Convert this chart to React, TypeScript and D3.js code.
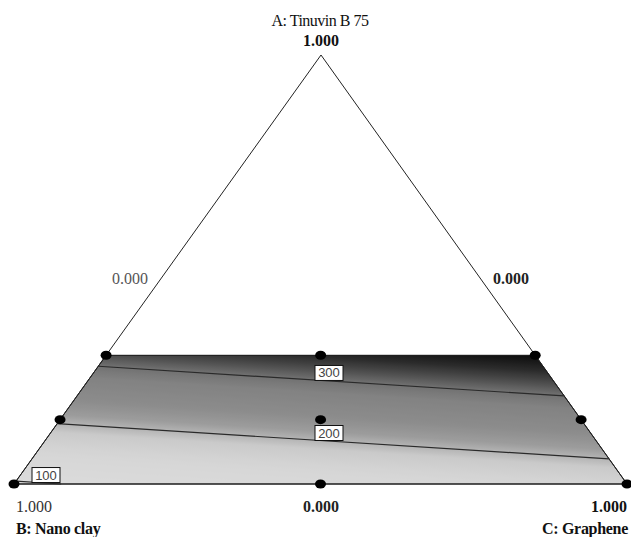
import React from "react";
import * as d3 from "d3";

// ---- Data ----
// Design points (ternary fractions A, B, C)
const ptA = [0.3, 0.3, 0.3, 0.15, 0.15, 0.15, 0, 0, 0];
const ptB = [0.7, 0.35, 0, 0.85, 0.425, 0, 1, 0.5, 0];
const ptC = [0, 0.35, 0.7, 0, 0.425, 0.85, 0, 0.5, 1];
// Linear mixture model coefficients (response = a*A + b*B + c*C)
const coefA = 842;
const coefB = 95;
const coefC = 160;
// Constraint region: A from 0 to 0.3
const aMax = 0.3;
// Contour levels and label texts
const contourLevels = [100, 200, 300];
const contourLabels = ["100", "200", "300"];
// Gray shading stops
const shadeValues = [90, 150, 185, 200, 215, 240, 280, 300, 320, 340, 370];
const shadeGrays = ["#dcdcdc", "#d6d6d6", "#cacaca", "#b4b4b4", "#9c9c9c", "#8c8c8c", "#828282", "#727272", "#4c4c4c", "#2a2a2a", "#050505"];
// Axis texts
const apexTitle = "A: Tinuvin B 75";
const leftTitle = "B: Nano clay";
const rightTitle = "C: Graphene";
const apexTick = "1.000";
const sideTickLeft = "0.000";
const sideTickRight = "0.000";
const bottomTicks = ["1.000", "0.000", "1.000"];

// ---- Layout ----
const W = 631, H = 537;
const apex = { x: 321, y: 55 };
const leftV = { x: 14, y: 484 };
const rightV = { x: 627, y: 484 };
const labelXs = [46, 329, 329];

const yScale = d3.scaleLinear().domain([0, 1]).range([leftV.y, apex.y]);

function tern(A: number, B: number, C: number): [number, number] {
  const s = A + B + C;
  const x = (A * apex.x + B * leftV.x + C * rightV.x) / s;
  return [x, yScale(A / s)];
}
function inv(x: number, y: number): [number, number, number] {
  const A = yScale.invert(y);
  const C = (x - A * apex.x - (1 - A) * leftV.x) / (rightV.x - leftV.x);
  return [A, 1 - A - C, C];
}
function model(A: number, B: number, C: number) {
  return coefA * A + coefB * B + coefC * C;
}
function vAt(x: number, y: number) {
  const [A, B, C] = inv(x, y);
  return model(A, B, C);
}

const region: [number, number, number][] = [
  [0, 1, 0],
  [aMax, 1 - aMax, 0],
  [aMax, 0, 1 - aMax],
  [0, 0, 1],
];

function contourSegment(level: number): [number, number][] {
  const pts: [number, number][] = [];
  for (let i = 0; i < region.length; i++) {
    const p = region[i], q = region[(i + 1) % region.length];
    const v0 = model(p[0], p[1], p[2]);
    const v1 = model(q[0], q[1], q[2]);
    if ((level - v0) * (level - v1) <= 0 && v0 !== v1) {
      const t = (level - v0) / (v1 - v0);
      const xy = tern(p[0] + t * (q[0] - p[0]), p[1] + t * (q[1] - p[1]), p[2] + t * (q[2] - p[2]));
      if (!pts.some((o) => Math.hypot(o[0] - xy[0], o[1] - xy[1]) < 0.5)) pts.push(xy);
    }
  }
  return pts.slice(0, 2).sort((a, b) => a[0] - b[0]);
}

export default function App() {
  const gray = d3.scaleLinear<string>().domain(shadeValues).range(shadeGrays).interpolate(d3.interpolateRgb);
  const regionPts = region.map((r) => tern(r[0], r[1], r[2]));
  const regionPath = d3.line()(regionPts)! + "Z";
  const cx = 321, cy = 420;
  const v0 = vAt(cx, cy);
  const gx = vAt(cx + 1, cy) - v0;
  const gy = vAt(cx, cy + 1) - v0;
  const g2 = gx * gx + gy * gy;
  const vmin = shadeValues[0], vmax = shadeValues[shadeValues.length - 1];
  const p0 = [cx + ((vmin - v0) / g2) * gx, cy + ((vmin - v0) / g2) * gy];
  const p1 = [cx + ((vmax - v0) / g2) * gx, cy + ((vmax - v0) / g2) * gy];
  const stops = d3.range(0, 101).map((i) => {
    const v = vmin + ((vmax - vmin) * i) / 100;
    return { off: i / 100, col: gray(v) };
  });
  const tri = [tern(1, 0, 0), tern(0, 1, 0), tern(0, 0, 1)];
  const triPath = d3.line()(tri)! + "Z";
  const serif = "'Liberation Serif', 'DejaVu Serif', serif";

  return (
    <svg width={W} height={H} style={{ position: "absolute", left: 0, top: 0, background: "#fff" }}>
      <defs>
        <linearGradient id="shade" gradientUnits="userSpaceOnUse" x1={p0[0]} y1={p0[1]} x2={p1[0]} y2={p1[1]}>
          {stops.map((s, i) => (
            <stop key={i} offset={s.off} stopColor={s.col} />
          ))}
        </linearGradient>
      </defs>
      <rect x={0} y={0} width={W} height={H} fill="#fff" />
      <path d={regionPath} fill="url(#shade)" />
      <path d={regionPath} fill="none" stroke="#111" strokeWidth={1} />
      <path d={triPath} fill="none" stroke="#222" strokeWidth={1} />
      {contourLevels.map((lv, i) => {
        const seg = contourSegment(lv);
        if (seg.length < 2) return null;
        const lx = labelXs[i];
        const t = (lx - seg[0][0]) / (seg[1][0] - seg[0][0]);
        const ly = seg[0][1] + t * (seg[1][1] - seg[0][1]);
        return (
          <g key={lv}>
            <line x1={seg[0][0]} y1={seg[0][1]} x2={seg[1][0]} y2={seg[1][1]} stroke="#2a2a2a" strokeWidth={1.2} />
            <rect x={lx - 14} y={ly - 15.5} width={28} height={15} fill="#fff" stroke="#111" strokeWidth={1} />
            <text x={lx} y={ly - 3.5} textAnchor="middle" fontFamily="'Liberation Sans', Arial, sans-serif" fontSize={13} fill="#444">
              {contourLabels[i]}
            </text>
          </g>
        );
      })}
      {ptA.map((a, i) => {
        const [x, y] = tern(a, ptB[i], ptC[i]);
        return <ellipse key={i} cx={x} cy={y} rx={5.5} ry={4.5} fill="#000" />;
      })}
      <text x={apex.x - 1} y={26} textAnchor="middle" fontFamily={serif} fontSize={16} letterSpacing={-0.5} fill="#111">
        {apexTitle}
      </text>
      <text x={apex.x} y={46} textAnchor="middle" fontFamily={serif} fontSize={16} fontWeight="bold" fill="#111">
        {apexTick}
      </text>
      <text x={112} y={284} fontFamily={serif} fontSize={16} fill="#555">
        {sideTickLeft}
      </text>
      <text x={493} y={284} fontFamily={serif} fontSize={16} fontWeight="bold" fill="#222">
        {sideTickRight}
      </text>
      <text x={16} y={512} fontFamily={serif} fontSize={16} fill="#333">
        {bottomTicks[0]}
      </text>
      <text x={apex.x} y={512} textAnchor="middle" fontFamily={serif} fontSize={16} fontWeight="bold" fill="#222">
        {bottomTicks[1]}
      </text>
      <text x={627} y={512} textAnchor="end" fontFamily={serif} fontSize={16} fontWeight="bold" fill="#111">
        {bottomTicks[2]}
      </text>
      <text x={16} y={534} fontFamily={serif} fontSize={16} fontWeight="bold" letterSpacing={-0.3} fill="#111">
        {leftTitle}
      </text>
      <text x={628} y={534} textAnchor="end" fontFamily={serif} fontSize={16} fontWeight="bold" letterSpacing={-0.3} fill="#111">
        {rightTitle}
      </text>
    </svg>
  );
}
